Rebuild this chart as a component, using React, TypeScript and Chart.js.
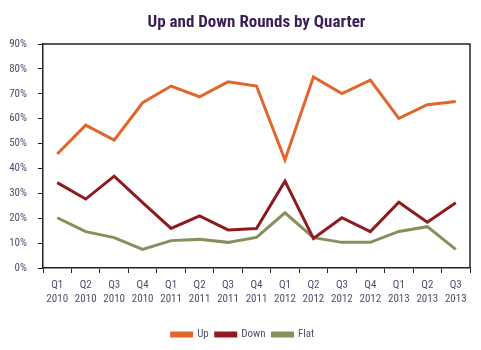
import React, { useEffect, useRef } from "react";
import { Chart, registerables } from "chart.js";

Chart.register(...registerables);

const categories: string[][] = [
  ["Q1", "2010"], ["Q2", "2010"], ["Q3", "2010"], ["Q4", "2010"],
  ["Q1", "2011"], ["Q2", "2011"], ["Q3", "2011"], ["Q4", "2011"],
  ["Q1", "2012"], ["Q2", "2012"], ["Q3", "2012"], ["Q4", "2012"],
  ["Q1", "2013"], ["Q2", "2013"], ["Q3", "2013"],
];
const upValues = [45.8, 57.4, 51.4, 66.4, 73.1, 68.8, 74.8, 73.1, 43.4, 76.8, 70.1, 75.5, 60.1, 65.6, 66.9];
const downValues = [34.3, 27.7, 36.9, 26.3, 15.9, 20.9, 15.3, 15.9, 34.9, 11.9, 20.2, 14.6, 26.4, 18.4, 26.2];
const flatValues = [20.2, 14.6, 12.2, 7.5, 11.0, 11.5, 10.3, 12.3, 22.2, 12.2, 10.3, 10.3, 14.7, 16.6, 7.5];
const yTicks = [0, 10, 20, 30, 40, 50, 60, 70, 80, 90];
const title = "Up and Down Rounds by Quarter";

const FONT = "'Roboto Condensed', 'DejaVu Sans Condensed', sans-serif";

export default function App() {
  const ref = useRef<HTMLCanvasElement | null>(null);
  useEffect(() => {
    if (!ref.current) return;
    const frame = {
      id: "frameTitle",
      afterLayout(chart: any) {
        if (chart.legend) chart.legend.left += 16;
      },
      afterDraw(chart: any) {
        const { ctx, chartArea } = chart;
        ctx.save();
        ctx.strokeStyle = "#222";
        ctx.lineWidth = 1.5;
        ctx.beginPath();
        ctx.moveTo(chartArea.left, chartArea.top);
        ctx.lineTo(chartArea.right, chartArea.top);
        ctx.lineTo(chartArea.right, chartArea.bottom);
        ctx.stroke();
        ctx.fillStyle = "#3B1F55";
        ctx.font = "bold 17px " + FONT;
        ctx.textAlign = "center";
        ctx.textBaseline = "middle";
        ctx.fillText(title, (chartArea.left + chartArea.right) / 2, 23);
        ctx.restore();
      },
    };
    const chart = new Chart(ref.current, {
      type: "line",
      data: {
        labels: categories,
        datasets: [
          { label: "Up", data: upValues, borderColor: "#E2652C", backgroundColor: "#E2652C", borderWidth: 3, pointRadius: 0, tension: 0 },
          { label: "Down", data: downValues, borderColor: "#8E1B22", backgroundColor: "#8E1B22", borderWidth: 3, pointRadius: 0, tension: 0 },
          { label: "Flat", data: flatValues, borderColor: "#8A8D5C", backgroundColor: "#8A8D5C", borderWidth: 3, pointRadius: 0, tension: 0 },
        ],
      },
      options: {
        animation: false,
        responsive: false,
        maintainAspectRatio: false,
        layout: { padding: { top: 44, left: 0, right: 11, bottom: 0 } },
        plugins: {
          title: { display: false },
          tooltip: { enabled: false },
          legend: {
            position: "bottom",
            labels: {
              boxWidth: 20,
              boxHeight: 3,
              color: "#4F4F6F",
              font: { family: FONT, size: 11 },
              padding: 7,
            },
          },
        },
        scales: {
          x: {
            offset: true,
            grid: { display: true, drawOnChartArea: false, drawTicks: true, tickLength: 5, color: "#222", offset: true },
            border: { display: true, color: "#222", width: 1.5 },
            ticks: { color: "#4F4F6F", font: { family: FONT, size: 11 }, maxRotation: 0, autoSkip: false, padding: 6 },
            afterFit: (s: any) => { s.height = 54; },
          },
          y: {
            min: 0,
            max: 90,
            afterBuildTicks: (s: any) => { s.ticks = yTicks.map((v) => ({ value: v })); },
            grid: { display: true, drawOnChartArea: false, drawTicks: true, tickLength: 5, color: "#222" },
            border: { display: true, color: "#222", width: 1.5 },
            ticks: { color: "#4F4F6F", font: { family: FONT, size: 11 }, padding: 11, callback: (v: any) => v + "%" },
            afterFit: (s: any) => { s.width = 43; },
          },
        },
      },
      plugins: [frame],
    } as any);
    return () => chart.destroy();
  }, []);
  return (
    <div style={{ position: "fixed", left: 0, top: 0, width: 481, height: 350, background: "#fff" }}>
      <canvas ref={ref} width={481} height={350} />
    </div>
  );
}
